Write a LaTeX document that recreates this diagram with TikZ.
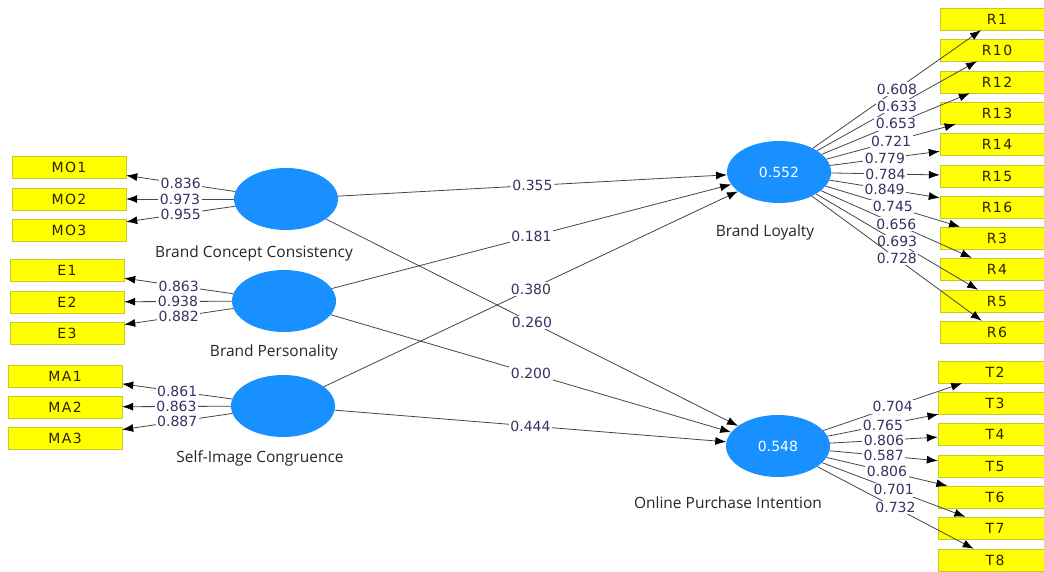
\documentclass[tikz,border=0pt]{standalone}
\usepackage{fontspec}
\setmainfont{DejaVu Sans}
\newfontfamily\boxfont[LetterSpace=10]{DejaVu Sans}
\newfontfamily\namefont{Open Sans}
\usetikzlibrary{shapes.geometric,arrows.meta,positioning}
\definecolor{lvblue}{RGB}{24,144,255}
\definecolor{mvyellow}{RGB}{255,255,0}
\definecolor{mvborder}{RGB}{200,200,40}
\definecolor{mvtext}{RGB}{45,35,0}
\definecolor{coefcol}{RGB}{55,50,100}
\definecolor{linkgray}{RGB}{70,70,70}

\begin{document}
\begin{tikzpicture}[x=1pt,y=-1pt,
  latent/.style={ellipse,fill=lvblue,minimum width=104pt,minimum height=62pt,inner sep=0pt,text=white,font=\fontsize{14}{16}\selectfont},
  indicator/.style={rectangle,draw=mvborder,fill=mvyellow,minimum width=114pt,minimum height=22pt,inner sep=0pt,text=mvtext,font=\boxfont\fontsize{14}{16}\selectfont},
  coef/.style={fill=white,inner sep=1.5pt,text=coefcol,font=\fontsize{14}{16}\selectfont},
  lvname/.style={text=black!85,font=\namefont\fontsize{15.5}{18}\selectfont},
  link/.style={draw=linkgray,line width=0.8pt,-{Latex[length=11pt,width=8pt,black]}}]
\path[use as bounding box,fill=white] (0,0) rectangle (1044,572);

% latent variables
\node [latent] (bcc) at (286,199) {};
\node [latent] (bp) at (284,301) {};
\node [latent] (sic) at (283,406) {};
\node [latent] (bl) at (779,172) {0.552};
\node [latent] (opi) at (778,446) {0.548};
\node [lvname] (bcc name) at (254,253) {Brand Concept Consistency};
\node [lvname] (bp name) at (274,352) {Brand Personality};
\node [lvname] (sic name) at (260,458) {Self-Image Congruence};
\node [lvname] (bl name) at (765,232) {Brand Loyalty};
\node [lvname] (opi name) at (728,503) {Online Purchase Intention};

% indicators, left
\node [indicator] (mo1) at (69,167) {MO1};
\node [indicator] (mo2) at (69,199) {MO2};
\node [indicator] (mo3) at (69,230) {MO3};
\node [indicator] (e1) at (67,270) {E1};
\node [indicator] (e2) at (67,302) {E2};
\node [indicator] (e3) at (67,333) {E3};
\node [indicator] (ma1) at (65,376) {MA1};
\node [indicator] (ma2) at (65,407) {MA2};
\node [indicator] (ma3) at (65,438) {MA3};

% indicators, right
\node [indicator] (r1) at (997,19) {R1};
\node [indicator] (r10) at (997,50) {R10};
\node [indicator] (r12) at (997,82) {R12};
\node [indicator] (r13) at (997,113) {R13};
\node [indicator] (r14) at (997,144) {R14};
\node [indicator] (r15) at (997,176) {R15};
\node [indicator] (r16) at (997,207) {R16};
\node [indicator] (r3) at (997,238) {R3};
\node [indicator] (r4) at (997,269) {R4};
\node [indicator] (r5) at (997,301) {R5};
\node [indicator] (r6) at (997,332) {R6};
\node [indicator] (t2) at (995,372) {T2};
\node [indicator] (t3) at (995,403) {T3};
\node [indicator] (t4) at (995,434) {T4};
\node [indicator] (t5) at (995,466) {T5};
\node [indicator] (t6) at (995,497) {T6};
\node [indicator] (t7) at (995,528) {T7};
\node [indicator] (t8) at (995,560) {T8};

% outer loadings
\draw [link] (bcc) -- node [coef] {0.836} (mo1);
\draw [link] (bcc) -- node [coef] {0.973} (mo2);
\draw [link] (bcc) -- node [coef] {0.955} (mo3);
\draw [link] (bp) -- node [coef] {0.863} (e1);
\draw [link] (bp) -- node [coef] {0.938} (e2);
\draw [link] (bp) -- node [coef] {0.882} (e3);
\draw [link] (sic) -- node [coef] {0.861} (ma1);
\draw [link] (sic) -- node [coef] {0.863} (ma2);
\draw [link] (sic) -- node [coef] {0.887} (ma3);
\draw [link] (bl) -- node [coef] {0.608} (r1);
\draw [link] (bl) -- node [coef] {0.633} (r10);
\draw [link] (bl) -- node [coef] {0.653} (r12);
\draw [link] (bl) -- node [coef] {0.721} (r13);
\draw [link] (bl) -- node [coef] {0.779} (r14);
\draw [link] (bl) -- node [coef] {0.784} (r15);
\draw [link] (bl) -- node [coef] {0.849} (r16);
\draw [link] (bl) -- node [coef] {0.745} (r3);
\draw [link] (bl) -- node [coef] {0.656} (r4);
\draw [link] (bl) -- node [coef] {0.693} (r5);
\draw [link] (bl) -- node [coef] {0.728} (r6);
\draw [link] (opi) -- node [coef] {0.704} (t2);
\draw [link] (opi) -- node [coef] {0.765} (t3);
\draw [link] (opi) -- node [coef] {0.806} (t4);
\draw [link] (opi) -- node [coef] {0.587} (t5);
\draw [link] (opi) -- node [coef] {0.806} (t6);
\draw [link] (opi) -- node [coef] {0.701} (t7);
\draw [link] (opi) -- node [coef] {0.732} (t8);

% path coefficients
\draw [link] (bcc) -- node [coef] {0.355} (bl);
\draw [link] (bcc) -- node [coef] {0.260} (opi);
\draw [link] (bp) -- node [coef] {0.181} (bl);
\draw [link] (bp) -- node [coef] {0.200} (opi);
\draw [link] (sic) -- node [coef] {0.380} (bl);
\draw [link] (sic) -- node [coef] {0.444} (opi);
\end{tikzpicture}
\end{document}
